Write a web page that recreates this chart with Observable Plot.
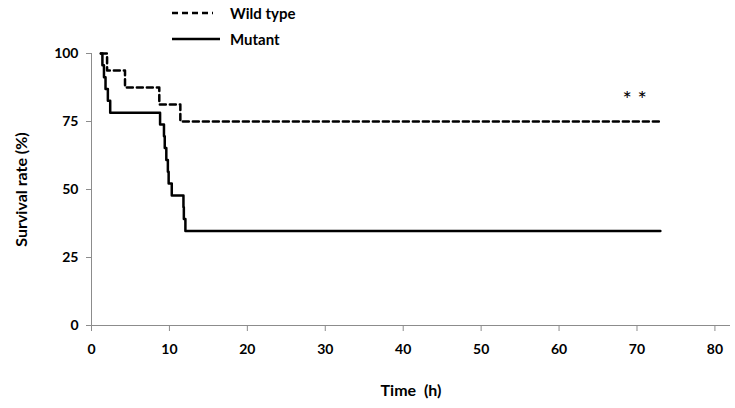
<!DOCTYPE html>
<html><head><meta charset="utf-8">
<script src="https://cdn.jsdelivr.net/npm/d3@7"></script>
<script src="https://cdn.jsdelivr.net/npm/@observablehq/plot@0.6"></script>
<style>
body{margin:0;background:#fff;font-family:Lato,"Open Sans",sans-serif;}
#wrap{position:relative;width:735px;height:408px;}
#legend{position:absolute;left:172px;top:0;}
.item{display:flex;align-items:center;height:26px;font-weight:bold;font-size:15px;color:#000;}
.item svg{width:58px;height:10px;}
#chart g[aria-label$="axis label"]{font-size:16px;font-weight:bold;}
</style></head><body>
<div id="wrap"><div id="chart"></div><div id="legend"></div></div>
<script>
// Wild type (dashed)
const wtTime = [1.2, 2.0, 4.3, 8.7, 11.4, 73];
const wtSurv = [100, 93.75, 87.5, 81.25, 75, 75];
// Mutant (solid)
const mutTime = [1.2, 1.4, 1.6, 1.8, 2.1, 2.4, 8.8, 9.3, 9.4, 9.6, 9.8, 9.9, 10.3, 11.8, 11.85, 12.05, 73];
const mutSurv = [100, 95.65, 91.30, 86.96, 82.61, 78.26, 73.91, 69.57, 65.22, 60.87, 56.52, 52.17, 47.83, 43.48, 39.13, 34.78, 34.78];
const seriesNames = ["Wild type", "Mutant"];
const xTicks = [0, 10, 20, 30, 40, 50, 60, 70, 80];
const yTicks = [0, 25, 50, 75, 100];
const annotX = [69.7];
const annotY = [83];
const annotText = ["* *"];

const wt = wtTime.map((t, i) => ({t, s: wtSurv[i]}));
const mut = mutTime.map((t, i) => ({t, s: mutSurv[i]}));
const annot = annotX.map((x, i) => ({x, y: annotY[i], text: annotText[i]}));

const chart = Plot.plot({
  width: 735, height: 408,
  marginLeft: 91, marginRight: 5, marginTop: 53, marginBottom: 83,
  style: {fontFamily: "Lato, 'Open Sans', sans-serif", background: "#fff"},
  x: {domain: [0, 82]},
  y: {domain: [0, 100]},
  marks: [
    Plot.ruleY([0], {stroke: "#8c8c8c"}),
    Plot.ruleX([0], {stroke: "#8c8c8c"}),
    Plot.axisY({ticks: yTicks, tickSize: 5, tickPadding: 8, stroke: "#8c8c8c", fill: "#000", fontSize: 14, fontWeight: "bold",
      label: "Survival rate (%)", labelAnchor: "center", labelOffset: 76, labelArrow: false}),
    Plot.axisX({ticks: xTicks, tickSize: 6, tickPadding: 13, stroke: "#8c8c8c", fill: "#000", fontSize: 14, fontWeight: "bold",
      label: "Time\u00a0 (h)", labelAnchor: "center", labelOffset: 70, labelArrow: false}),
    Plot.line(wt, {x: "t", y: "s", curve: "step-after", stroke: "#000", strokeWidth: 2.5, strokeDasharray: "6,4"}),
    Plot.line(mut, {x: "t", y: "s", curve: "step-after", stroke: "#000", strokeWidth: 2.5}),
    Plot.text(annot, {x: "x", y: "y", text: "text", fontSize: 22, fill: "#000"})
  ]
});
document.getElementById("chart").appendChild(chart);

const dashes = ["6,4", null];
const legend = document.getElementById("legend");
seriesNames.forEach((name, i) => {
  const div = document.createElement("div");
  div.className = "item";
  const dash = dashes[i] ? ` stroke-dasharray="${dashes[i]}"` : "";
  const len = dashes[i] ? 41 : 48;
  div.innerHTML = `<svg><line x1="0" x2="${len}" y1="5" y2="5" stroke="#000" stroke-width="2.5"${dash}/></svg><span>${name}</span>`;
  legend.appendChild(div);
});
</script>
</body></html>
